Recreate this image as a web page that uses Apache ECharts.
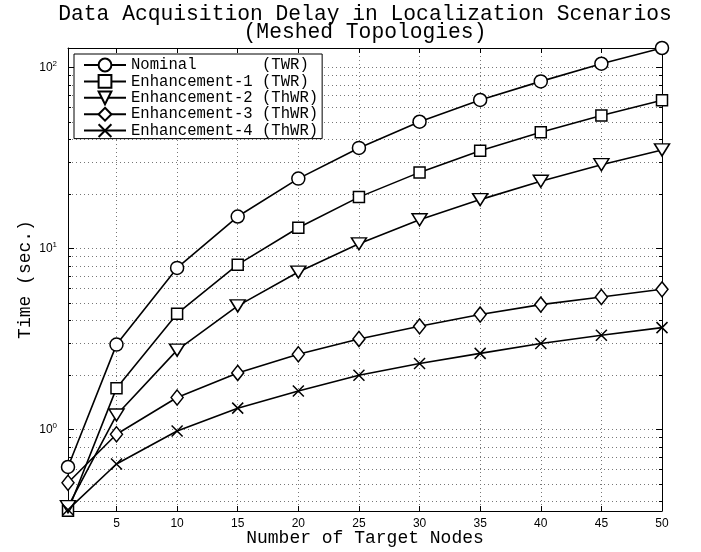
<!DOCTYPE html>
<html>
<head>
<meta charset="utf-8">
<script src="https://cdn.jsdelivr.net/npm/echarts@6/dist/echarts.min.js"></script>
<style>
html,body{margin:0;padding:0;background:#fff;}
#main{width:701px;height:552px;}
</style>
</head>
<body>
<div id="main"></div>
<script>
// x positions (number of target nodes)
var nodes = [1, 5, 10, 15, 20, 25, 30, 35, 40, 45, 50];
// delays in seconds
var nominal = [0.62, 2.94, 7.8, 15.0, 24.3, 35.9, 50.1, 66.1, 83.7, 104.8, 128];
var enh1 = [0.355, 1.69, 4.36, 8.13, 13.0, 19.2, 26.3, 34.6, 43.8, 54.2, 65.8];
var enh2 = [0.374, 1.2, 2.74, 4.81, 7.4, 10.6, 14.4, 18.6, 23.5, 29.0, 35.0];
var enh3 = [0.507, 0.94, 1.50, 2.05, 2.60, 3.16, 3.71, 4.31, 4.89, 5.39, 5.94];
var enh4 = [0.36, 0.644, 0.98, 1.31, 1.63, 1.99, 2.31, 2.63, 2.98, 3.31, 3.65];
var names = ['Nominal       (TWR)', 'Enhancement-1 (TWR)', 'Enhancement-2 (ThWR)', 'Enhancement-3 (ThWR)', 'Enhancement-4 (ThWR)'];
// ticks
var xTicks = [5, 10, 15, 20, 25, 30, 35, 40, 45, 50];
var yMajor = [1, 10, 100];
var yMinor = [0.4, 0.5, 0.6, 0.7, 0.8, 0.9, 2, 3, 4, 5, 6, 7, 8, 9, 20, 30, 40, 50, 60, 70, 80, 90];

var mono = 'Liberation Mono';
var sans = 'Liberation Sans';
var gridLine = {show: true, lineStyle: {color: '#777', width: 1, type: [1, 3]}};

function pairs(ys) {
    return nodes.map(function (x, i) { return [x, ys[i]]; });
}

function xAx(pos, showLabel) {
    return {
        type: 'value', position: pos, min: 1, max: 50,
        axisLine: {show: true, onZero: false, lineStyle: {color: '#000', width: 1}},
        axisTick: {show: true, inside: true, length: 5, customValues: xTicks, lineStyle: {color: '#000'}},
        axisLabel: {show: showLabel, customValues: xTicks, margin: 7, color: '#000', fontFamily: sans, fontSize: 12},
        splitLine: showLabel ? gridLine : {show: false}
    };
}

function yAx(pos, vals, len, showLabel, split) {
    return {
        type: 'log', position: pos, min: 0.354, max: 128,
        axisLine: {show: len > 4, onZero: false, lineStyle: {color: '#000', width: 1}},
        axisTick: {show: true, inside: true, length: len, customValues: vals, lineStyle: {color: '#000'}},
        axisLabel: {
            show: showLabel, customValues: vals, margin: 11,
            formatter: function (v) {
                return '{b|10}{s|' + Math.round(Math.log10(v)) + '}';
            },
            rich: {
                b: {fontFamily: sans, fontSize: 12, color: '#000'},
                s: {fontFamily: sans, fontSize: 8, color: '#000', padding: [0, 0, 8, 0]}
            }
        },
        splitLine: split ? gridLine : {show: false}
    };
}

var serieStyle = {
    type: 'line', xAxisIndex: 0, yAxisIndex: 0,
    lineStyle: {color: '#000', width: 1.6},
    itemStyle: {color: '#fff', borderColor: '#000', borderWidth: 1.5},
    showSymbol: true, clip: false
};

function mk(name, ys, symbol, size, rot) {
    return Object.assign({}, serieStyle, {
        name: name, data: pairs(ys), symbol: symbol, symbolSize: size, symbolRotate: rot || 0
    });
}

var chart = echarts.init(document.getElementById('main'), null, {renderer: 'canvas'});
var option = {
    animation: false,
    backgroundColor: '#fff',
    title: {
        text: 'Data Acquisition Delay in Localization Scenarios\n(Meshed Topologies)',
        left: 365, top: 5, padding: 0, textAlign: 'center',
        textStyle: {fontFamily: mono, fontSize: 21.3, fontWeight: 'normal', color: '#000', lineHeight: 18}
    },
    grid: {left: 68, right: 39, top: 48, bottom: 41, containLabel: false, outerBoundsMode: 'none'},
    legend: {
        orient: 'vertical', left: 74, top: 54,
        padding: [3, 4, 0, 9],
        itemWidth: 42, itemHeight: 16, itemGap: 0.4,
        backgroundColor: '#fff', borderColor: '#000', borderWidth: 1,
        selectedMode: false,
        textStyle: {fontFamily: mono, fontSize: 15.6, color: '#000', lineHeight: 14},
        data: names
    },
    xAxis: [
        Object.assign(xAx('bottom', true), {
            name: 'Number of Target Nodes', nameLocation: 'middle', nameGap: 18, nameMoveOverlap: false,
            nameTextStyle: {fontFamily: mono, fontSize: 18, color: '#000'}
        }),
        xAx('top', false)
    ],
    yAxis: [
        Object.assign(yAx('left', yMajor, 6, true, true), {
            name: 'Time (sec.)', nameLocation: 'middle', nameGap: 34, nameMoveOverlap: false,
            nameTextStyle: {fontFamily: mono, fontSize: 18, color: '#000'}
        }),
        yAx('left', yMinor, 3, false, true),
        yAx('right', yMajor, 6, false, false),
        yAx('right', yMinor, 3, false, false)
    ],
    series: [
        mk(names[0], nominal, 'circle', 13),
        mk(names[1], enh1, 'rect', 11),
        mk(names[2], enh2, 'triangle', [15, 12], 180),
        mk(names[3], enh3, 'diamond', [12, 15]),
        mk(names[4], enh4, 'path://M0,0L10,10M10,0L0,10', 11)
    ]
};
chart.setOption(option);
</script>
</body>
</html>
